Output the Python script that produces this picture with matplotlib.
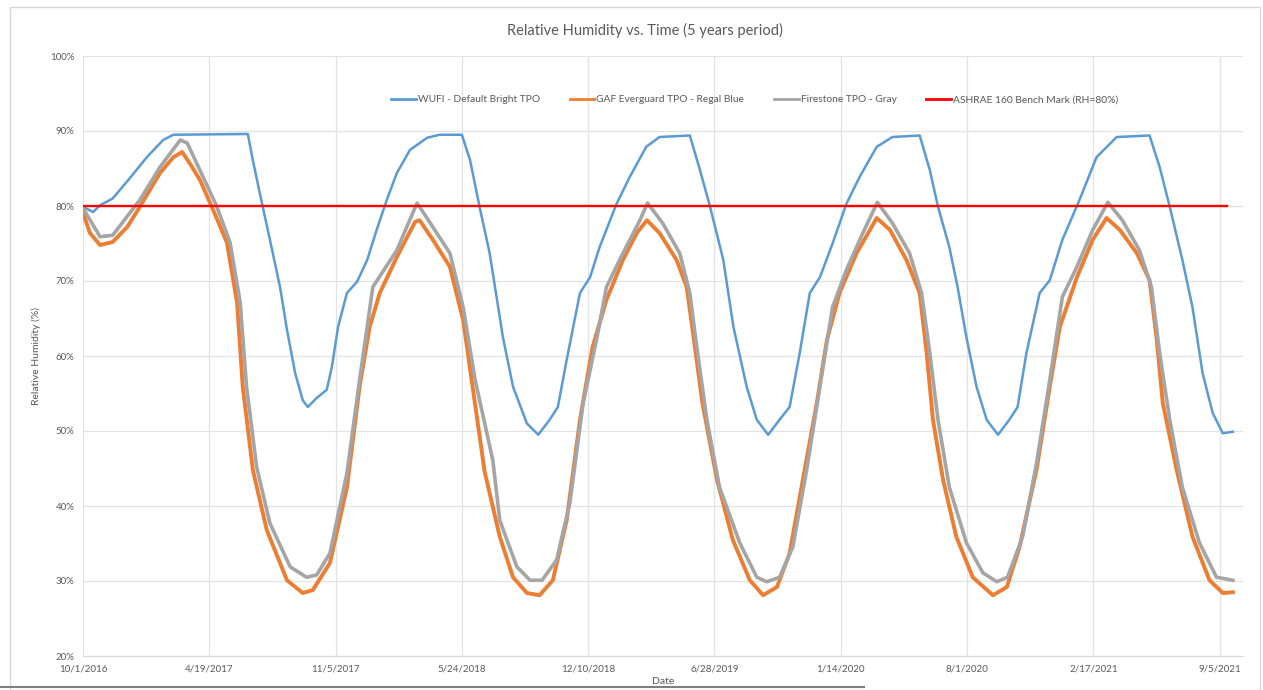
import matplotlib
import matplotlib.pyplot as plt
from matplotlib.lines import Line2D
import pandas as pd

matplotlib.use("Agg")

START = pd.Timestamp("2016-10-01")

# day offsets from 10/1/2016 and RH (%)
wufi_days = [0, 16, 27, 47, 74, 101, 127, 143, 261, 269, 280, 296, 312, 323, 336, 348, 356,
             370, 386, 394, 404, 418, 434, 450, 465, 481, 497, 518, 545, 565, 600, 613, 628,
             644, 665, 681, 703, 721, 739, 752, 766, 787, 803, 818, 845, 866, 892, 913, 961,
             977, 993, 1014, 1030, 1051, 1067, 1085, 1103, 1119, 1135, 1151, 1167, 1187, 1209,
             1230, 1257, 1282, 1325, 1341, 1354, 1372, 1385, 1399, 1415, 1431, 1449, 1467,
             1480, 1494, 1515, 1531, 1551, 1578, 1605, 1637, 1689, 1705, 1721, 1741, 1757,
             1773, 1789, 1805, 1821]
wufi_rh = [79.9, 79.2, 80.1, 81.0, 83.7, 86.5, 88.8, 89.5, 89.6, 86.1, 81.7, 75.5, 69.2, 63.5,
           57.7, 54.1, 53.2, 54.4, 55.5, 58.5, 63.9, 68.4, 69.9, 72.8, 76.8, 80.8, 84.4, 87.5,
           89.1, 89.5, 89.5, 86.1, 79.9, 73.7, 62.5, 55.9, 51.0, 49.5, 51.5, 53.2, 59.5, 68.4,
           70.5, 74.5, 80.3, 83.9, 87.9, 89.2, 89.4, 84.8, 79.9, 72.8, 63.9, 55.9, 51.5, 49.5,
           51.5, 53.2, 60.4, 68.4, 70.5, 75.0, 80.3, 83.9, 87.9, 89.2, 89.4, 84.8, 79.9, 74.5,
           69.2, 62.5, 55.9, 51.5, 49.5, 51.5, 53.2, 60.4, 68.4, 70.1, 75.5, 80.8, 86.5, 89.2,
           89.4, 85.2, 79.9, 72.8, 66.5, 57.7, 52.4, 49.7, 49.9]

gaf_days = [0, 11, 27, 47, 70, 90, 122, 143, 157, 169, 185, 206, 228, 244, 253, 269, 291, 323,
            348, 364, 391, 418, 438, 454, 470, 497, 526, 533, 554, 581, 602, 617, 636, 660,
            681, 703, 723, 744, 766, 787, 807, 829, 855, 877, 893, 913, 940, 956, 966, 981,
            1004, 1029, 1056, 1077, 1099, 1119, 1140, 1162, 1178, 1198, 1225, 1257, 1278,
            1304, 1325, 1336, 1346, 1362, 1383, 1409, 1441, 1463, 1483, 1510, 1531, 1547,
            1574, 1599, 1621, 1642, 1669, 1689, 1700, 1710, 1732, 1757, 1784, 1805, 1821]
gaf_rh = [79.1, 76.4, 74.8, 75.2, 77.2, 79.9, 84.4, 86.5, 87.2, 85.7, 83.5, 79.5, 75.1, 67.1,
          55.9, 44.8, 36.8, 30.1, 28.4, 28.8, 32.4, 42.5, 55.9, 63.9, 68.4, 73.2, 77.9, 78.1,
          75.5, 71.9, 64.8, 55.9, 44.6, 35.9, 30.5, 28.4, 28.1, 30.1, 38.1, 51.5, 61.2, 67.5,
          72.8, 76.4, 78.1, 76.4, 72.8, 69.2, 63.1, 53.7, 43.5, 35.5, 30.1, 28.1, 29.2, 33.7,
          43.5, 53.7, 62.1, 68.4, 73.7, 78.4, 76.8, 72.8, 68.4, 60.4, 51.5, 43.5, 35.9, 30.5,
          28.1, 29.2, 34.5, 44.8, 55.9, 63.9, 70.5, 75.5, 78.4, 76.8, 73.7, 70.1, 62.5, 53.7,
          44.8, 35.9, 30.1, 28.4, 28.5]

fire_days = [0, 27, 47, 90, 122, 154, 165, 190, 212, 233, 249, 259, 275, 296, 328, 354, 370,
             391, 418, 438, 459, 497, 529, 554, 581, 602, 621, 649, 660, 687, 708, 727, 750,
             771, 792, 814, 829, 855, 882, 894, 918, 945, 961, 972, 988, 1008, 1040, 1067,
             1083, 1103, 1124, 1146, 1167, 1187, 1209, 1235, 1258, 1282, 1309, 1328, 1341,
             1354, 1372, 1399, 1425, 1447, 1464, 1488, 1510, 1531, 1551, 1574, 1599, 1623,
             1646, 1673, 1692, 1705, 1721, 1741, 1768, 1795, 1821]
fire_rh = [79.7, 75.9, 76.1, 80.8, 85.2, 88.8, 88.4, 83.9, 79.9, 75.1, 67.1, 55.9, 45.2, 37.7,
           31.9, 30.5, 30.8, 33.7, 44.4, 56.8, 69.2, 74.1, 80.4, 77.2, 73.7, 66.5, 56.8, 46.1,
           38.1, 31.9, 30.1, 30.1, 32.8, 40.4, 53.7, 62.5, 69.2, 73.7, 78.1, 80.4, 77.7, 73.7,
           68.4, 61.2, 51.5, 42.5, 35.1, 30.5, 29.9, 30.5, 34.5, 44.8, 55.9, 66.5, 71.5, 76.4,
           80.5, 77.7, 73.7, 68.4, 60.4, 51.5, 42.5, 35.1, 31.1, 29.9, 30.5, 35.9, 45.7, 56.8,
           67.9, 71.9, 76.8, 80.5, 78.1, 74.1, 69.2, 60.4, 51.5, 42.5, 35.1, 30.5, 30.1]

bench_days = [0, 1812]
bench_rh = [80, 80]

tick_days = [0, 200, 400, 600, 800, 1000, 1200, 1400, 1600, 1800]
y_ticks = [20, 30, 40, 50, 60, 70, 80, 90, 100]

labels = [
    "WUFI - Default Bright TPO",
    "GAF Everguard TPO - Regal Blue",
    "Firestone TPO - Gray",
    "ASHRAE 160 Bench Mark (RH=80%)",
]
colors = ["#5B9BD5", "#ED7D31", "#A5A5A5", "#FF0000"]


def to_dates(days):
    return START + pd.to_timedelta(days, unit="D")


plt.rcParams["font.family"] = ["Lato", "DejaVu Sans"]

fig = plt.figure(figsize=(12.63, 6.90), dpi=100)
ax = fig.add_axes([83 / 1263, 1 - 656 / 690, (1243 - 83) / 1263, (656 - 56) / 690])

ax.plot(to_dates(wufi_days), wufi_rh, color=colors[0], lw=1.8, label=labels[0])
ax.plot(to_dates(gaf_days), gaf_rh, color=colors[1], lw=2.8, label=labels[1])
ax.plot(to_dates(fire_days), fire_rh, color=colors[2], lw=2.6, label=labels[2])
ax.plot(to_dates(bench_days), bench_rh, color=colors[3], lw=1.7, label=labels[3])

ax.set_xlim(to_dates([0])[0], to_dates([1837])[0])
ax.set_ylim(20, 100)

tick_dates = to_dates(tick_days)
ax.set_xticks(tick_dates)
ax.set_xticklabels([f"{d.month}/{d.day}/{d.year}" for d in tick_dates])
ax.set_yticks(y_ticks)
ax.set_yticklabels([f"{v}%" for v in y_ticks])

ax.tick_params(axis="both", length=0, labelsize=7, labelcolor="#595959", pad=6)
ax.grid(True, color="#E3E3E3", lw=0.9)
ax.set_axisbelow(True)
for side in ["top", "right", "left"]:
    ax.spines[side].set_visible(False)
ax.spines["bottom"].set_color("#D9D9D9")

ax.set_xlabel("Date", fontsize=7.5, color="#595959", labelpad=3)
ax.set_ylabel("Relative Humidity (%)", fontsize=7.5, color="#595959", labelpad=7)

fig.text(0.511, 1 - 30 / 690, "Relative Humidity vs. Time (5 years period)",
         ha="center", va="center", fontsize=10.5, color="#595959")

handles = [Line2D([], [], color=c, lw=2) for c in colors]
ax.legend(handles, labels, loc="center", bbox_to_anchor=(0.579, 0.927), ncol=4,
          frameon=False, fontsize=7.4, handlelength=2.4, handletextpad=0.2,
          columnspacing=2.9, labelcolor="#595959")

# chart frame and the dark edge at the bottom of the screenshot
fig.add_artist(plt.Rectangle((10 / 1263, 0.0), 1250 / 1263, 1 - 7 / 690,
                             transform=fig.transFigure, fill=False,
                             edgecolor="#D9D9D9", lw=1.0))
fig.add_artist(Line2D([0, 864 / 1263], [1 - 687 / 690] * 2, transform=fig.transFigure,
                      color="#7F7F7F", lw=1.5))

fig.savefig("out.png", dpi=100)
